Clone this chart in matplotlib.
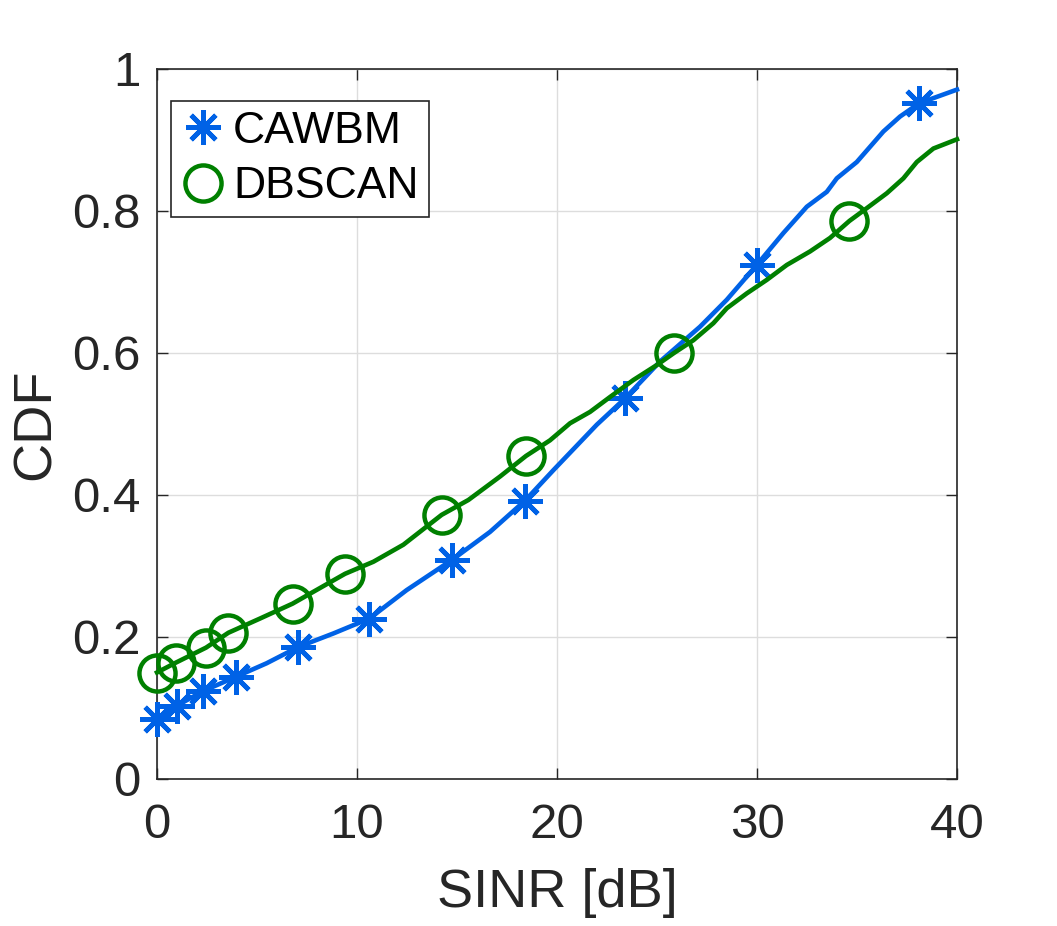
import matplotlib.pyplot as plt
from matplotlib.lines import Line2D

# -----------------------------
# Data
# -----------------------------
cawbm_x = [0.0, 0.98, 2.32, 3.95, 5.48, 7.07, 8.82, 10.62, 12.48, 14.77, 16.65, 18.4,
           19.82, 21.99, 23.4, 25.15, 27.15, 28.49, 29.99, 31.32, 32.49, 33.49, 33.99,
           34.99, 36.32, 37.15, 38.12, 38.82, 40.0]
cawbm_y = [0.084, 0.103, 0.124, 0.144, 0.163, 0.186, 0.205, 0.226, 0.266, 0.309, 0.348, 0.392,
           0.435, 0.499, 0.536, 0.588, 0.637, 0.675, 0.724, 0.769, 0.806, 0.827, 0.846,
           0.869, 0.912, 0.933, 0.952, 0.959, 0.971]
cawbm_marks = [0, 1, 2, 3, 5, 7, 9, 11, 14, 18, 26]

dbscan_x = [0.0, 0.95, 2.45, 3.57, 5.15, 6.78, 8.15, 9.4, 10.82, 12.32, 14.23, 15.57,
            17.15, 18.45, 19.65, 20.65, 21.65, 22.65, 23.82, 24.99, 25.85, 26.82, 27.82,
            28.49, 29.49, 30.49, 31.49, 32.65, 33.65, 34.62, 35.49, 36.49, 37.32, 37.99,
            38.82, 40.0]
dbscan_y = [0.150, 0.164, 0.185, 0.206, 0.226, 0.247, 0.269, 0.289, 0.306, 0.330, 0.372, 0.393,
            0.426, 0.455, 0.477, 0.501, 0.517, 0.538, 0.562, 0.583, 0.600, 0.618, 0.642,
            0.663, 0.684, 0.703, 0.724, 0.743, 0.762, 0.786, 0.804, 0.825, 0.846, 0.869,
            0.888, 0.901]
dbscan_marks = [0, 1, 2, 3, 5, 7, 10, 13, 20, 29]

x_ticks = [0, 10, 20, 30, 40]
y_ticks = [0, 0.2, 0.4, 0.6, 0.8, 1]
y_ticklabels = ['0', '0.2', '0.4', '0.6', '0.8', '1']

blue = '#0062E6'
green = '#008000'
star = (8, 2, 0)

plt.rcParams['font.family'] = ['Liberation Sans', 'DejaVu Sans']

# -----------------------------
# Figure
# -----------------------------
W, H = 1057, 926
fig = plt.figure(figsize=(W / 100, H / 100), dpi=100)
ax = fig.add_axes([157 / W, 1 - 779 / H, 800 / W, 710 / H])

ax.plot(cawbm_x, cawbm_y, color=blue, linewidth=3.3, marker=star, markevery=cawbm_marks,
        markersize=25, markeredgewidth=3.4, clip_on=False, zorder=3)
ax.plot(dbscan_x, dbscan_y, color=green, linewidth=3.3, marker='o', markevery=dbscan_marks,
        markersize=26, markeredgewidth=3.2, markerfacecolor='none', clip_on=False, zorder=3)

ax.set_xlim(0, 40)
ax.set_ylim(0, 1)
ax.set_xticks(x_ticks)
ax.set_yticks(y_ticks)
ax.set_yticklabels(y_ticklabels)
ax.grid(True, color='#dddddd', linewidth=1)
ax.set_axisbelow(True)
ax.tick_params(direction='in', length=8, width=1, top=True, right=True,
               labelsize=35.5, colors='#262626', pad=12)
ax.tick_params(axis='x', pad=17)
for s in ax.spines.values():
    s.set_linewidth(1.2)
    s.set_color('#262626')

ax.set_xlabel('SINR [dB]', fontsize=39, color='#262626', labelpad=15)
ax.set_ylabel('CDF', fontsize=39, color='#262626', labelpad=8)

handles = [
    Line2D([], [], color=blue, linestyle='none', marker=star, markersize=25, markeredgewidth=3.4),
    Line2D([], [], color=green, linestyle='none', marker='o', markersize=26, markeredgewidth=3.2,
           markerfacecolor='none'),
]
leg = fig.legend(handles, ['CAWBM', 'DBSCAN'], loc='upper left',
                 bbox_to_anchor=(171 / W, 1 - 101 / H), bbox_transform=fig.transFigure,
                 fontsize=32, frameon=True, fancybox=False, framealpha=1,
                 edgecolor='#262626', borderpad=0.22, handlelength=1.0,
                 handletextpad=0.18, labelspacing=0.33, borderaxespad=0)
leg.get_frame().set_linewidth(1.2)

fig.savefig('out.png', dpi=100)
